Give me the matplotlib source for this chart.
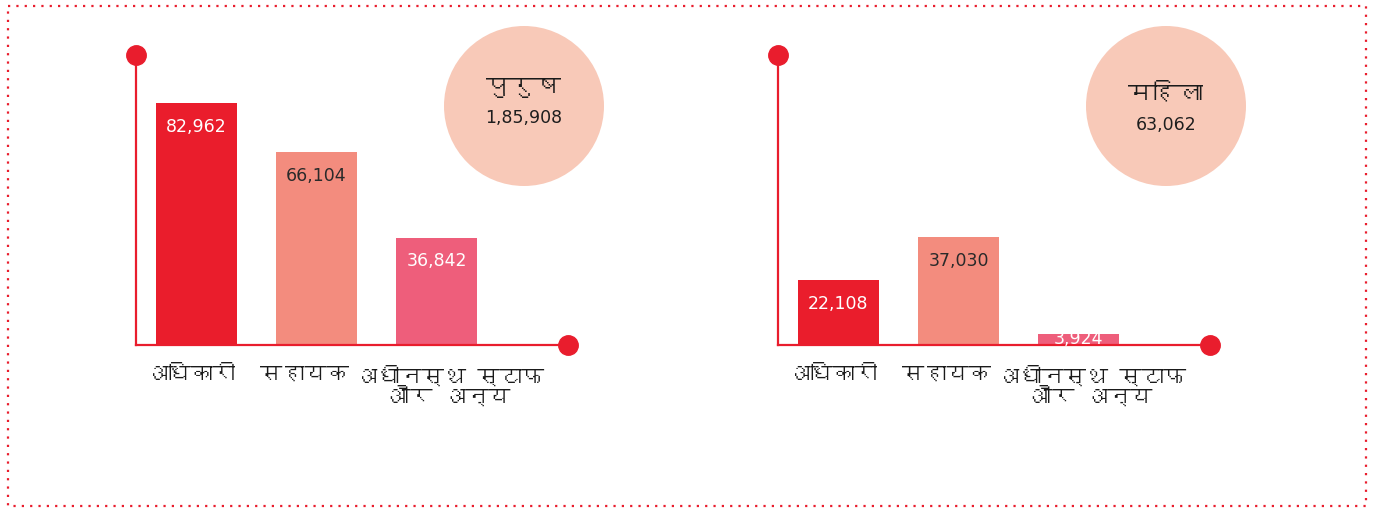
import matplotlib
matplotlib.use("Agg")
import matplotlib.pyplot as plt
from matplotlib import font_manager
from matplotlib.ft2font import FT2Font
from matplotlib.patches import Circle, Rectangle

# staff counts by post level
categories = ["अधिकारी", "सहायक", "अधीनस्थ स्टाफ\nऔर अन्य"]
male_counts = [82962, 66104, 36842]
female_counts = [22108, 37030, 3924]
panel_titles = ["पुरुष", "महिला"]

RED = "#e91d2d"
bar_colors = ["#ea1d2c", "#f38c7e", "#ee5e7b"]
label_colors = ["white", "#2a2a2a", "white"]
bubble_color = "#f8c9b8"
YMAX = 99400


def devanagari_family():
    # pick any installed font that actually carries Devanagari glyphs
    for fe in font_manager.fontManager.ttflist:
        try:
            if 0x0915 in FT2Font(fe.fname).get_charmap():
                return fe.name
        except Exception:
            continue
    return "DejaVu Sans"


deva = [devanagari_family(), "DejaVu Sans"]
num_font = dict(family="DejaVu Sans", color="#1e1e1e")


def indian_format(n):
    s = str(n)
    if len(s) <= 3:
        return s
    head, tail = s[:-3], s[-3:]
    parts = []
    while len(head) > 2:
        parts.insert(0, head[-2:])
        head = head[:-2]
    if head:
        parts.insert(0, head)
    return ",".join(parts + [tail])


W, H = 1375, 508
fig = plt.figure(figsize=(W / 100, H / 100), dpi=100)

# background layer in pixel coordinates for the frame and the bubbles
bg = fig.add_axes([0, 0, 1, 1])
bg.set_xlim(0, W)
bg.set_ylim(H, 0)
bg.axis("off")
bg.add_patch(Rectangle((8, 6), 1358, 500, fill=False, edgecolor=RED,
                       linewidth=1.6, linestyle=(0, (1, 2.75))))


def draw_panel(x0, counts, title, title_y):
    ax = fig.add_axes([x0 / W, (H - 345) / H, 432 / W, 290 / H])
    x = range(len(counts))
    bars = ax.bar(x, counts, width=0.675, color=bar_colors, zorder=1)
    ax.set_xlim(-0.504, 3.096)
    ax.set_ylim(0, YMAX)
    for s in ["top", "right"]:
        ax.spines[s].set_visible(False)
    for s in ["left", "bottom"]:
        ax.spines[s].set_color(RED)
        ax.spines[s].set_linewidth(1.6)
        ax.spines[s].set_zorder(3)
    ax.set_xticks([])
    ax.set_yticks([])
    ax.patch.set_alpha(0)
    # end dots on both axes
    ax.plot([-0.504], [YMAX], "o", color=RED, markersize=14, clip_on=False, zorder=4)
    ax.plot([3.096], [0], "o", color=RED, markersize=14, clip_on=False, zorder=4)

    # category names under the axis
    for xi, shift, name in zip(x, [-0.05, -0.1, 0.11], categories):
        ax.annotate(name, (xi + shift, 0), xytext=(0, -15),
                    textcoords="offset points", ha="center", va="top",
                    family=deva, fontsize=16, color="#1a1a1a",
                    linespacing=0.9, annotation_clip=False)

    # value labels inside the bars, kept inside short bars
    for b, v, c in zip(bars, counts, label_colors):
        y = max(v - 8100, v / 2)
        ax.text(b.get_x() + b.get_width() / 2, y, indian_format(v),
                ha="center", va="center", fontsize=12.5,
                family="DejaVu Sans", color=c, zorder=5)

    cx = x0 + 388
    bg.add_patch(Circle((cx, 106), 80, color=bubble_color, linewidth=0))
    bg.text(cx, title_y, title, ha="center", va="center", fontsize=18,
            family=deva, color="#1a1a1a")
    bg.text(cx, title_y + 31, indian_format(sum(counts)), ha="center",
            va="center", fontsize=12.5, **num_font)


draw_panel(136, male_counts, panel_titles[0], 87)
draw_panel(778, female_counts, panel_titles[1], 94)

fig.savefig("out.png", dpi=100)
